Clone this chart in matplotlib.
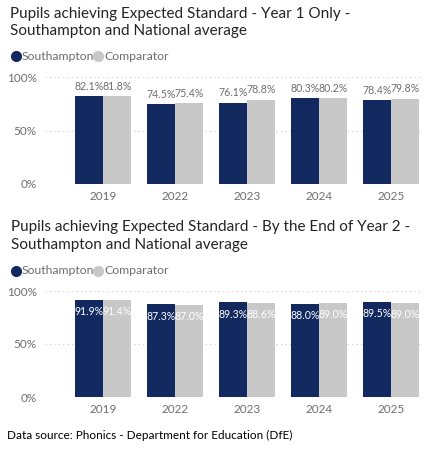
import matplotlib.pyplot as plt
from matplotlib.lines import Line2D
import numpy as np

years = ['2019', '2022', '2023', '2024', '2025']
year1_soton = [82.1, 74.5, 76.1, 80.3, 78.4]
year1_comp = [81.8, 75.4, 78.8, 80.2, 79.8]
year2_soton = [91.9, 87.3, 89.3, 88.0, 89.5]
year2_comp = [91.4, 87.0, 88.6, 89.0, 89.0]

navy = '#12295f'
grey = '#c8c8c8'
text_grey = '#6e6e6e'
plt.rcParams['font.family'] = ['Lato', 'DejaVu Sans']

W, H = 433, 449
fig = plt.figure(figsize=(W / 100, H / 100), dpi=100)


def px_axes(left, top, right, bottom):
    return fig.add_axes([left / W, 1 - bottom / H, (right - left) / W, (bottom - top) / H])


def draw_panel(ax, soton, comp, inside):
    x = np.arange(len(years))
    bw = 0.385
    ax.bar(x - bw / 2, soton, bw, color=navy)
    ax.bar(x + bw / 2, comp, bw, color=grey)
    for xi, a, b in zip(x, soton, comp):
        for off, v in ((-bw / 2, a), (bw / 2, b)):
            if inside:
                ax.text(xi + off, v - 11, f'{v:.1f}%', ha='center', va='center',
                        color='white', fontsize=7.6)
            else:
                ax.text(xi + off, v + 4, f'{v:.1f}%', ha='center', va='bottom',
                        color=text_grey, fontsize=7.6)
    ax.set_xlim(-0.806, 4.43)
    ax.set_ylim(0, 100)
    ax.set_yticks([0, 50, 100])
    ax.set_yticklabels(['0%', '50%', '100%'])
    ax.set_xticks(x)
    ax.set_xticklabels(years)
    for s in ax.spines.values():
        s.set_visible(False)
    ax.tick_params(length=0, colors=text_grey, labelsize=8.5)
    ax.tick_params(axis='x', pad=5)
    ax.tick_params(axis='y', pad=6)
    ax.grid(axis='y', color='#c8c8c8', linestyle=(0, (1, 3)), linewidth=0.8)
    ax.set_axisbelow(True)


ax1 = px_axes(45, 77, 422, 184)
draw_panel(ax1, year1_soton, year1_comp, inside=False)
ax2 = px_axes(45, 291, 422, 397)
draw_panel(ax2, year2_soton, year2_comp, inside=True)

title_color = '#252423'
fig.text(10 / W, 1 - 14 / H, 'Pupils achieving Expected Standard - Year 1 Only -',
         fontsize=11, color=title_color, va='center')
fig.text(10 / W, 1 - 31 / H, 'Southampton and National average',
         fontsize=11, color=title_color, va='center')
fig.text(11 / W, 1 - 227 / H, 'Pupils achieving Expected Standard - By the End of Year 2 -',
         fontsize=11, color=title_color, va='center')
fig.text(11 / W, 1 - 245 / H, 'Southampton and National average',
         fontsize=11, color=title_color, va='center')

# legends
for ly in (56, 271):
    yf = 1 - ly / H
    fig.add_artist(Line2D([16 / W], [yf], marker='o', markersize=7, color=navy,
                          linestyle='none'))
    fig.text(22 / W, yf, 'Southampton', color=text_grey, fontsize=8.8, va='center')
    fig.add_artist(Line2D([98 / W], [yf], marker='o', markersize=7, color=grey,
                          linestyle='none'))
    fig.text(104 / W, yf, 'Comparator', color=text_grey, fontsize=8.8, va='center')

fig.text(7 / W, 1 - 435 / H, 'Data source: Phonics - Department for Education (DfE)',
         fontsize=8.5, color='black', va='center')

fig.savefig('out.png', dpi=100)
